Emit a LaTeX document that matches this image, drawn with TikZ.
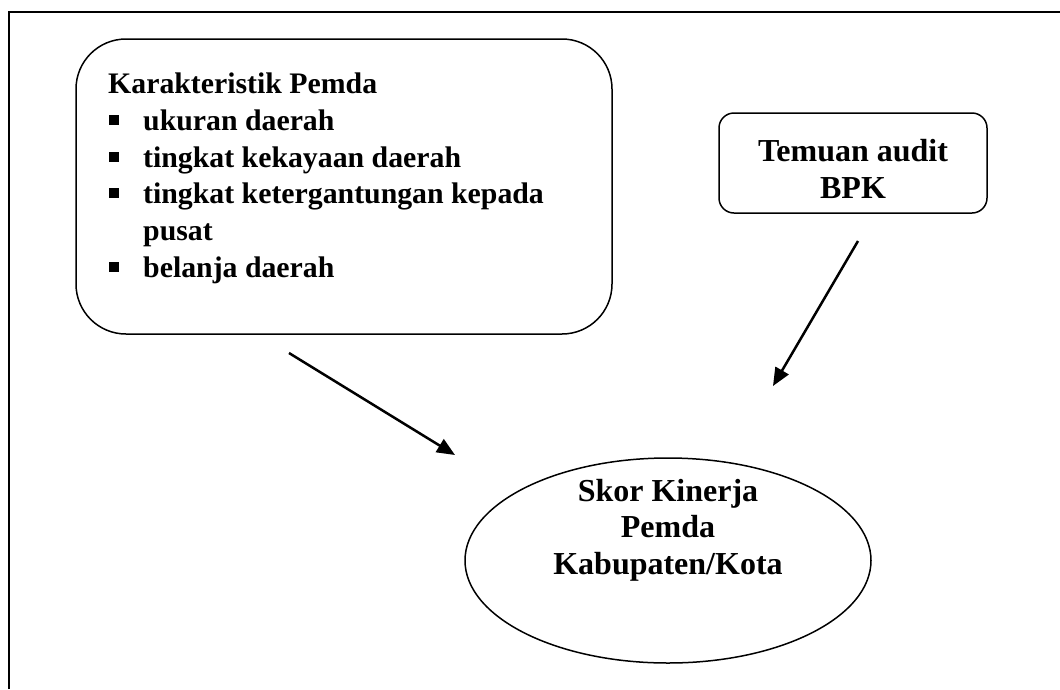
\documentclass[tikz,border=0pt]{standalone}
\usepackage{fontspec}
\setmainfont{Liberation Serif}
\usetikzlibrary{arrows.meta, shapes.geometric}
\begin{document}
\begin{tikzpicture}[x=1pt,y=-1pt,
  txt/.style={font=\fontsize{32}{36.7}\selectfont\bfseries, inner sep=0pt},
  ltxt/.style={font=\fontsize{29.8}{36.7}\selectfont\bfseries, inner sep=0pt, anchor=base west},
  bigbox/.style={draw, line width=1.5pt, rounded corners=50pt, inner sep=0pt},
  smallbox/.style={draw, line width=1.5pt, rounded corners=15pt, inner sep=0pt},
  oval/.style={draw, line width=1.5pt, ellipse, inner sep=0pt},
  bul/.style={fill=black},
  arr/.style={line width=2.5pt, -{Triangle[length=18pt,width=15pt]}}]
\useasboundingbox (0,0) rectangle (1060,689);
\draw[line width=2pt] (8.5,689) -- (8.5,12) -- (1060,12);
% boxes
\node[bigbox, minimum width=536pt, minimum height=295pt] (karak) at (344,186.5) {};
\node[smallbox, minimum width=268pt, minimum height=100pt] (temuan) at (853,163) {};
\node[oval, minimum width=406pt, minimum height=205pt] (skor) at (668,560.5) {};
% left box text
\node[ltxt] (k0) at (108,93) {Karakteristik Pemda};
\node[ltxt] (k1) at (143,130) {ukuran daerah};
\node[ltxt] (k2) at (143,167) {tingkat kekayaan daerah};
\node[ltxt] (k3) at (143,203) {tingkat ketergantungan kepada};
\node[ltxt] (k4) at (143,240) {pusat};
\node[ltxt] (k5) at (143,277) {belanja daerah};
\fill[bul] (109,115) rectangle (119,125);
\fill[bul] (109,152) rectangle (119,162);
\fill[bul] (109,188) rectangle (119,198);
\fill[bul] (109,262) rectangle (119,272);
% other texts
\node[txt, align=center] (temuantxt) at (853,169) {Temuan audit\\BPK};
\node[txt, align=center] (skortxt) at (668,530) {Skor Kinerja\\Pemda\\Kabupaten/Kota};
% arrows
\coordinate (a1s) at (289,353);
\coordinate (a1e) at (455,455);
\coordinate (a2s) at (858,241);
\coordinate (a2e) at (773,386);
\draw[arr] (a1s) -- (a1e);
\draw[arr] (a2s) -- (a2e);
\end{tikzpicture}
\end{document}
